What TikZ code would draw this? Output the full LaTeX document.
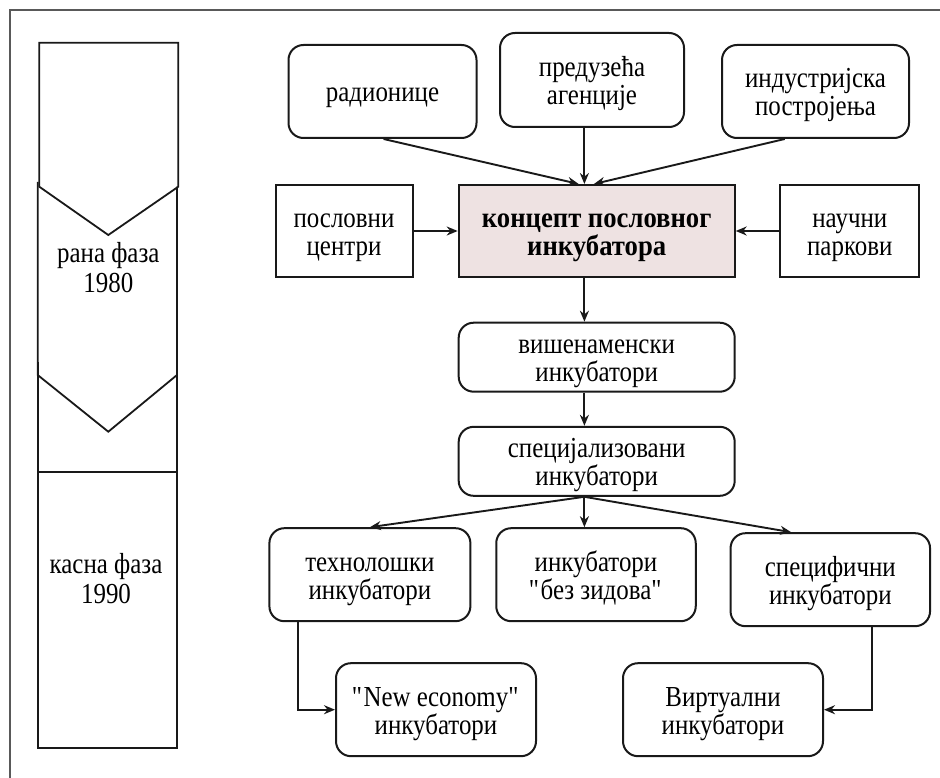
\documentclass[tikz,border=0pt]{standalone}
\usepackage{fontspec}
\setmainfont{Liberation Serif}[FakeStretch=0.86, BoldFeatures={FakeStretch=0.92}]
\usetikzlibrary{arrows.meta,calc}
\definecolor{ln}{RGB}{25,25,25}
\definecolor{pinkfill}{RGB}{238,226,226}
\newcommand{\strt}{\rule[-7pt]{0pt}{35pt}}
\newcommand{\qq}{\textquotedbl}
\newcommand{\tightlines}{\lineskiplimit=-100pt\relax\lineskip=0pt\relax}
\begin{document}
\begin{tikzpicture}[x=1pt,y=-1pt,
  txt/.style={font=\fontsize{29}{28}\selectfont\tightlines, align=center, inner sep=0pt},
  rbox/.style={txt, draw=ln, line width=2pt, rounded corners=15pt},
  sbox/.style={txt, draw=ln, line width=2pt},
  con/.style={draw=ln, line width=1.9pt, -{Stealth[length=11pt,width=9pt]}},
  shp/.style={draw=ln, line width=1.8pt, line join=miter}]
\useasboundingbox (0,0) rectangle (940,778);
% outer frame (top and left visible)
\draw[draw=black!65, line width=2pt] (940,10.5) -- (9.5,10.5) -- (9.5,778);
% left column shapes
\draw[shp] (39.3,42.7) -- (178.3,42.7) -- (178.3,186.7) -- (108.3,235) -- (39.3,186.7) -- cycle;
\draw[shp] (37.7,182) -- (37.7,375) -- (108.3,431.7) -- (177,375) -- (177,186.7);
\draw[shp] (37.7,362) -- (37.7,748) -- (177,748) -- (177,362);
\draw[shp] (37.7,472.3) -- (177,472.3);
\node[txt, font=\fontsize{29}{30}\selectfont\tightlines] (early) at (108.3,267) {\strt рана фаза\\\strt 1980};
\node[txt, font=\fontsize{29}{30}\selectfont\tightlines] (late) at (106,578) {\strt касна фаза\\\strt 1990};
% top row
\node[rbox, minimum width=188pt, minimum height=93pt] (rad) at (382.5,91.5) {\strt радионице};
\node[rbox, minimum width=184pt, minimum height=94pt] (pred) at (592,80) {\strt предузећа\\\strt агенције};
\node[rbox, minimum width=187pt, minimum height=93pt] (ind) at (815.5,91.5) {\strt индустријска\\\strt постројења};
% middle row
\node[sbox, minimum width=137pt, minimum height=92pt] (posl) at (344,231) {\strt пословни\\\strt центри};
\node[sbox, fill=pinkfill, minimum width=276pt, minimum height=92pt, font=\fontsize{29}{28}\selectfont\bfseries\tightlines] (konc) at (596.7,231) {\strt концепт пословног\\\strt инкубатора};
\node[sbox, minimum width=139pt, minimum height=92pt] (nauc) at (849.8,231) {\strt научни\\\strt паркови};
% chain
\node[rbox, minimum width=276pt, minimum height=69pt] (vis) at (596.7,357.2) {\strt вишенаменски\\\strt инкубатори};
\node[rbox, minimum width=276pt, minimum height=69pt] (spec) at (596.7,461.3) {\strt специјализовани\\\strt инкубатори};
% lower row
\node[rbox, minimum width=201pt, minimum height=93pt] (teh) at (369.9,574.7) {\strt технолошки\\\strt инкубатори};
\node[rbox, minimum width=199.5pt, minimum height=93pt] (bez) at (596,574.7) {\strt инкубатори\\\strt \qq без зидова\qq};
\node[rbox, minimum width=199.5pt, minimum height=93pt] (spcf) at (830.3,579.7) {\strt специфични\\\strt инкубатори};
\node[rbox, minimum width=200pt, minimum height=93pt] (newe) at (436,709.7) {\strt \qq New economy\qq\\\strt инкубатори};
\node[rbox, minimum width=200pt, minimum height=93pt] (virt) at (723,709.7) {\strt Виртуални\\\strt инкубатори};
% helper coordinates
\coordinate (ax) at (584.4,0);
\coordinate (la) at (578.7,0);
\coordinate (ra) at (593.9,0);
\coordinate (rs) at (383.6,0);
\coordinate (is) at (784.7,0);
\coordinate (rt) at (791.2,0);
\coordinate (le) at (298.2,0);
\coordinate (re) at (872.3,0);
% connectors
\draw[con] (rad.south -| rs) -- (konc.north -| la);
\draw[con] (pred.south -| ax) -- (konc.north -| ax);
\draw[con] (ind.south -| is) -- (konc.north -| ra);
\draw[con] (posl.east) -- (konc.west);
\draw[con] (nauc.west) -- (konc.east);
\draw[con] (konc.south -| ax) -- (vis.north -| ax);
\draw[con] (vis.south -| ax) -- (spec.north -| ax);
\draw[con] (spec.south -| ax) -- (teh.north);
\draw[con] (spec.south -| ax) -- (bez.north -| ax);
\draw[con] (spec.south -| ax) -- (spcf.north -| rt);
\draw[con] (teh.south -| le) |- (newe.west);
\draw[con] (spcf.south -| re) |- (virt.east);
\end{tikzpicture}
\end{document}
